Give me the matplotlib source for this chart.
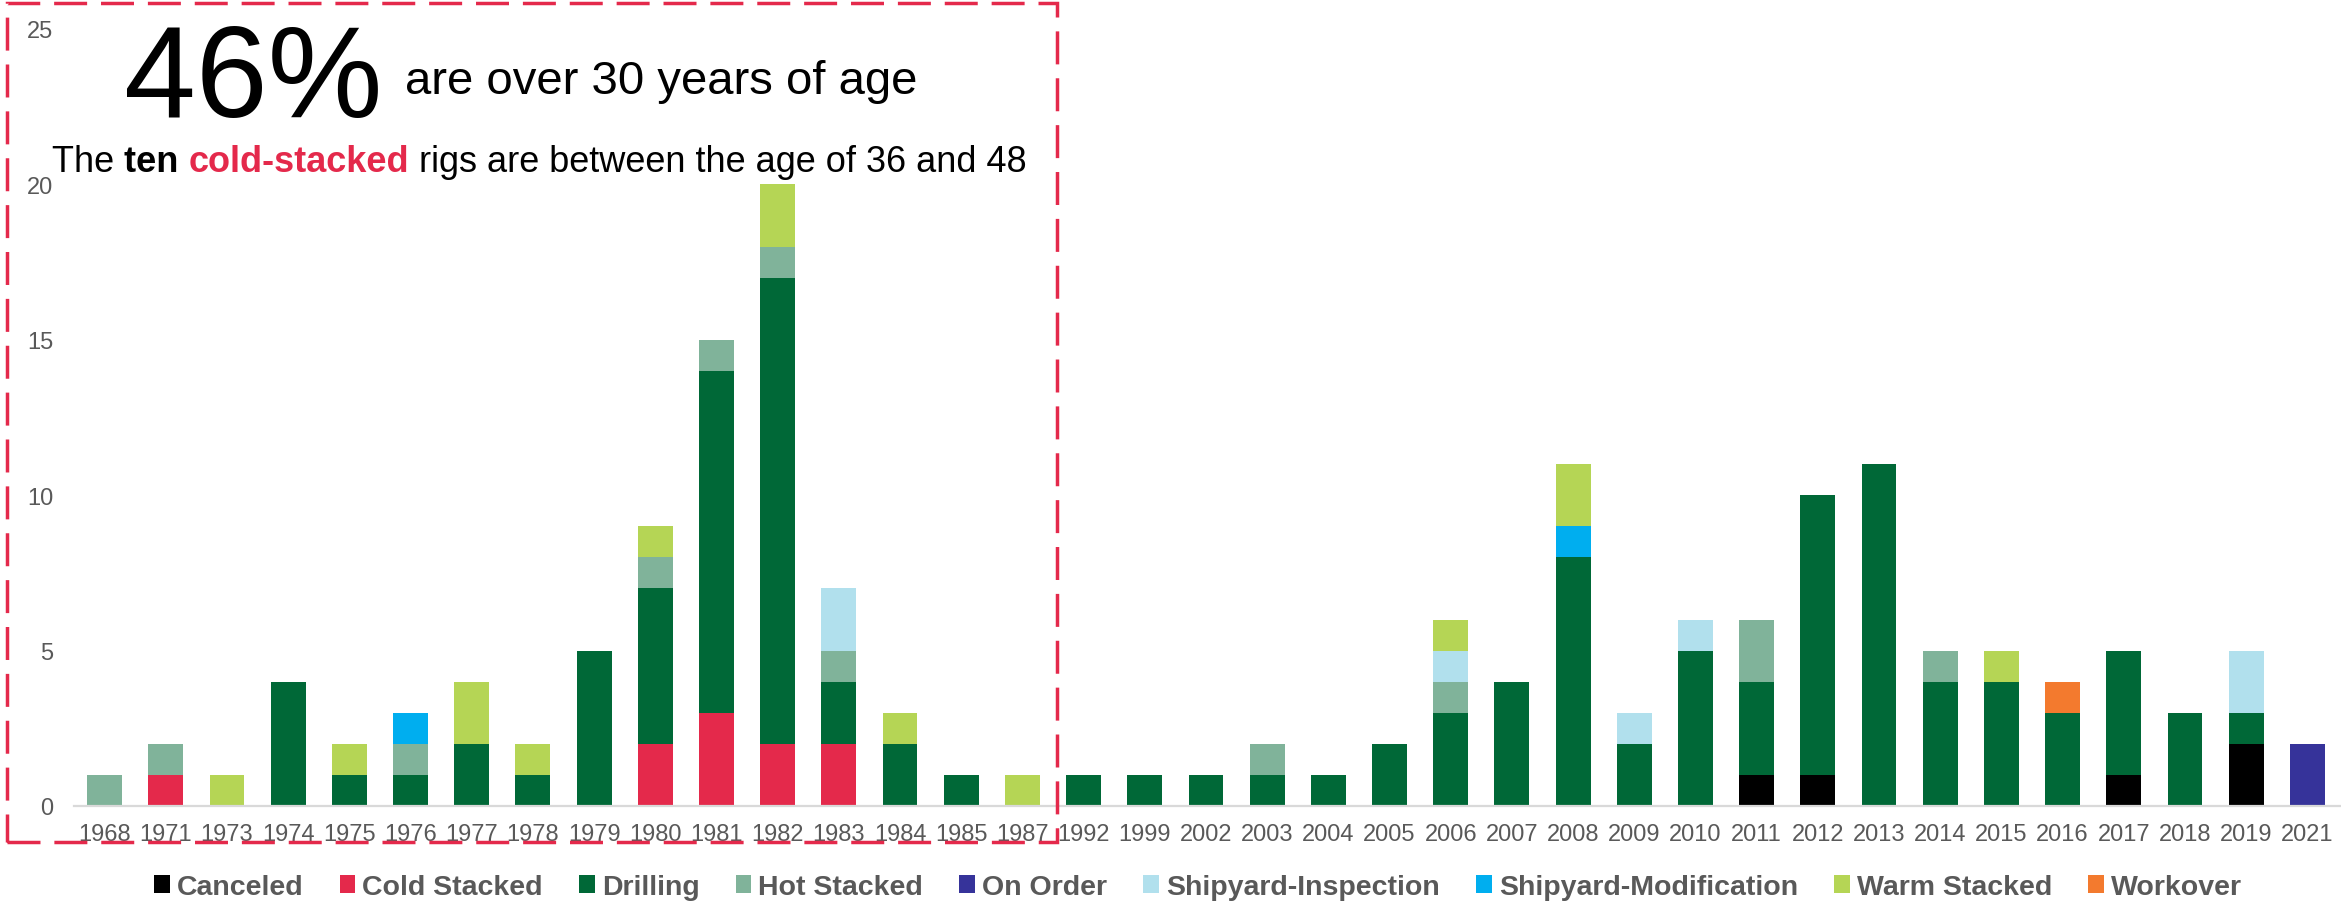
import matplotlib.pyplot as plt
from matplotlib.patches import Rectangle

plt.rcParams['font.family'] = ['Liberation Sans', 'DejaVu Sans']

# ---- data ----
years = ["1968", "1971", "1973", "1974", "1975", "1976", "1977", "1978", "1979",
         "1980", "1981", "1982", "1983", "1984", "1985", "1987", "1992", "1999",
         "2002", "2003", "2004", "2005", "2006", "2007", "2008", "2009", "2010",
         "2011", "2012", "2013", "2014", "2015", "2016", "2017", "2018", "2019", "2021"]

canceled     = [0, 0, 0, 0, 0, 0, 0, 0, 0, 0, 0, 0, 0, 0, 0, 0, 0, 0, 0, 0, 0, 0, 0, 0, 0, 0, 0, 1, 1, 0, 0, 0, 0, 1, 0, 2, 0]
cold_stacked = [0, 1, 0, 0, 0, 0, 0, 0, 0, 2, 3, 2, 2, 0, 0, 0, 0, 0, 0, 0, 0, 0, 0, 0, 0, 0, 0, 0, 0, 0, 0, 0, 0, 0, 0, 0, 0]
drilling     = [0, 0, 0, 4, 1, 1, 2, 1, 5, 5, 11, 15, 2, 2, 1, 0, 1, 1, 1, 1, 1, 2, 3, 4, 8, 2, 5, 3, 9, 11, 4, 4, 3, 4, 3, 1, 0]
hot_stacked  = [1, 1, 0, 0, 0, 1, 0, 0, 0, 1, 1, 1, 1, 0, 0, 0, 0, 0, 0, 1, 0, 0, 1, 0, 0, 0, 0, 2, 0, 0, 1, 0, 0, 0, 0, 0, 0]
on_order     = [0, 0, 0, 0, 0, 0, 0, 0, 0, 0, 0, 0, 0, 0, 0, 0, 0, 0, 0, 0, 0, 0, 0, 0, 0, 0, 0, 0, 0, 0, 0, 0, 0, 0, 0, 0, 2]
yard_insp    = [0, 0, 0, 0, 0, 0, 0, 0, 0, 0, 0, 0, 2, 0, 0, 0, 0, 0, 0, 0, 0, 0, 1, 0, 0, 1, 1, 0, 0, 0, 0, 0, 0, 0, 0, 2, 0]
yard_mod     = [0, 0, 0, 0, 0, 1, 0, 0, 0, 0, 0, 0, 0, 0, 0, 0, 0, 0, 0, 0, 0, 0, 0, 0, 1, 0, 0, 0, 0, 0, 0, 0, 0, 0, 0, 0, 0]
warm_stacked = [0, 0, 1, 0, 1, 0, 2, 1, 0, 1, 0, 2, 0, 1, 0, 1, 0, 0, 0, 0, 0, 0, 1, 0, 2, 0, 0, 0, 0, 0, 0, 1, 0, 0, 0, 0, 0]
workover     = [0, 0, 0, 0, 0, 0, 0, 0, 0, 0, 0, 0, 0, 0, 0, 0, 0, 0, 0, 0, 0, 0, 0, 0, 0, 0, 0, 0, 0, 0, 0, 0, 1, 0, 0, 0, 0]

series = [
    ("Canceled", canceled, "#000000"),
    ("Cold Stacked", cold_stacked, "#E4294B"),
    ("Drilling", drilling, "#006837"),
    ("Hot Stacked", hot_stacked, "#80B39A"),
    ("On Order", on_order, "#36339A"),
    ("Shipyard-Inspection", yard_insp, "#B1E0ED"),
    ("Shipyard-Modification", yard_mod, "#00AEEF"),
    ("Warm Stacked", warm_stacked, "#B5D555"),
    ("Workover", workover, "#F37A2E"),
]

W, H = 2341, 904
fig = plt.figure(figsize=(W / 100, H / 100), dpi=100)
ax = fig.add_axes([74 / W, 1 - 807 / H, (W - 74) / W, (807 - 30) / H])

x = list(range(len(years)))
bottom = [0] * len(years)
for name, vals, col in series:
    ax.bar(x, vals, 0.57, bottom=bottom, color=col, label=name, zorder=2)
    bottom = [b + v for b, v in zip(bottom, vals)]

ax.set_xlim(-0.5, len(years) - 0.45)
ax.set_ylim(0, 25)
ax.set_yticks([0, 5, 10, 15, 20, 25])
ax.set_xticks(x)
ax.set_xticklabels(years)
ax.tick_params(axis='both', length=0, labelsize=17, labelcolor="#595959")
ax.tick_params(axis='x', pad=12)
ax.tick_params(axis='y', pad=15)
for s in ["top", "right", "left"]:
    ax.spines[s].set_visible(False)
ax.spines["bottom"].set_color("#D9D9D9")
ax.spines["bottom"].set_linewidth(1.6)

# legend
handles, labels = ax.get_legend_handles_labels()
fig.legend(handles, labels, loc="center", bbox_to_anchor=(1198 / W, 1 - 888 / H),
           ncol=9, frameon=False, handlelength=0.55, handleheight=0.55,
           handletextpad=0.25, columnspacing=1.27,
           prop={"weight": "bold", "size": 20.5}, labelcolor="#595959")

# dashed highlight box
red = "#E4294B"
box = Rectangle((7 / W, 1 - 843 / H), 1050 / W, 839 / H, transform=fig.transFigure,
                fill=False, edgecolor=red, linewidth=2.5, linestyle=(0, (9.5, 4)),
                zorder=5)
fig.patches.append(box)

# annotation text
fig.text(124 / W, 1 - 117 / H, "46%", fontsize=93, color="black", va="baseline")
fig.text(405 / W, 1 - 94 / H, "are over 30 years of age", fontsize=34, color="black", va="baseline")

renderer = fig.canvas.get_renderer()
parts = [("The ", "normal", "black"), ("ten ", "bold", "black"),
         ("cold-stacked", "bold", red), (" rigs are between the age of 36 and 48", "normal", "black")]
xpos = 52
for txt, wt, col in parts:
    t = fig.text(xpos / W, 1 - 172 / H, txt, fontsize=26, fontweight=wt, color=col, va="baseline")
    bb = t.get_window_extent(renderer=renderer)
    xpos = bb.x1

fig.savefig("out.png", dpi=100)
